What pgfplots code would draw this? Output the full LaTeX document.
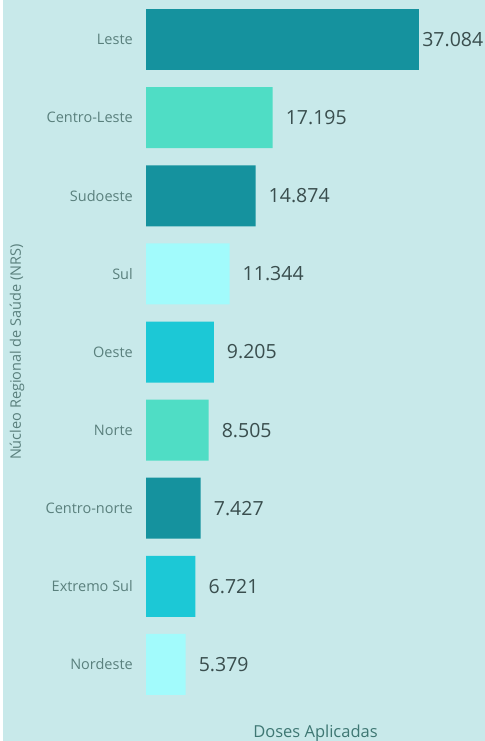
\documentclass[border=0pt]{standalone}
\usepackage{pgfplots}
\pgfplotsset{compat=1.18}
\usepackage{fontspec}
\setmainfont{Open Sans}
\definecolor{bg}{HTML}{C8E9EA}
\definecolor{cdark}{HTML}{15929E}
\definecolor{cmint}{HTML}{4FDDC5}
\definecolor{ccyan}{HTML}{1CC8D6}
\definecolor{cpale}{HTML}{A2FBFC}
\definecolor{ticktext}{HTML}{5A807D}
\definecolor{valtext}{HTML}{3A4E4E}
\definecolor{labtext}{HTML}{3E7773}
\begin{document}
\begin{tikzpicture}[x=1bp,y=1bp]
\useasboundingbox (0,0) rectangle (485,-741);
\clip (0,0) rectangle (485,-741);
\fill[bg] (0,0) rectangle (485,-741);
\fill[white] (0,0) rectangle (3,-741);
\begin{axis}[
  at={(146bp,-0.5bp)}, anchor=north west,
  scale only axis, width=339bp, height=703bp,
  xbar, bar width=61bp, bar shift=0pt,
  xmin=0, xmax=46040,
  ymin=-0.5, ymax=8.5, y dir=reverse,
  ytick={0,1,2,3,4,5,6,7,8},
  yticklabels={Leste,Centro-Leste,Sudoeste,Sul,Oeste,Norte,Centro-norte,Extremo Sul,Nordeste},
  xtick=\empty,
  axis line style={draw=none},
  major tick length=0pt,
  yticklabel style={font=\fontsize{14.5bp}{17bp}\selectfont, text=ticktext, inner sep=0pt, xshift=-13bp},
  ylabel={Núcleo Regional de Saúde (NRS)},
  ylabel style={at={(axis description cs:0,0.5)}, anchor=center, yshift=129bp, font=\fontsize{14.5bp}{17bp}\selectfont, text=ticktext},
  xlabel={Doses Aplicadas},
  xlabel style={at={(axis description cs:0.5,0)}, anchor=north, inner sep=0pt, yshift=-21bp, font=\fontsize{16.5bp}{19bp}\selectfont, text=labtext},
  clip=false,
  nodes near coords={\pgfplotspointmeta},
  point meta=explicit symbolic,
  every node near coord/.append style={font=\fontsize{19.5bp}{22bp}\selectfont, text=valtext, anchor=west, inner sep=0pt, xshift=13bp},
]
\addplot[fill=cdark, draw=none, every node near coord/.append style={xshift=-10bp}] coordinates {(37084,0) [37.084]};
\addplot[fill=cmint, draw=none] coordinates {(17195,1) [17.195] (8505,5) [8.505]};
\addplot[fill=cdark, draw=none] coordinates {(14874,2) [14.874] (7427,6) [7.427]};
\addplot[fill=cpale, draw=none] coordinates {(11344,3) [11.344] (5379,8) [5.379]};
\addplot[fill=ccyan, draw=none] coordinates {(9205,4) [9.205] (6721,7) [6.721]};
\end{axis}
\end{tikzpicture}
\end{document}
